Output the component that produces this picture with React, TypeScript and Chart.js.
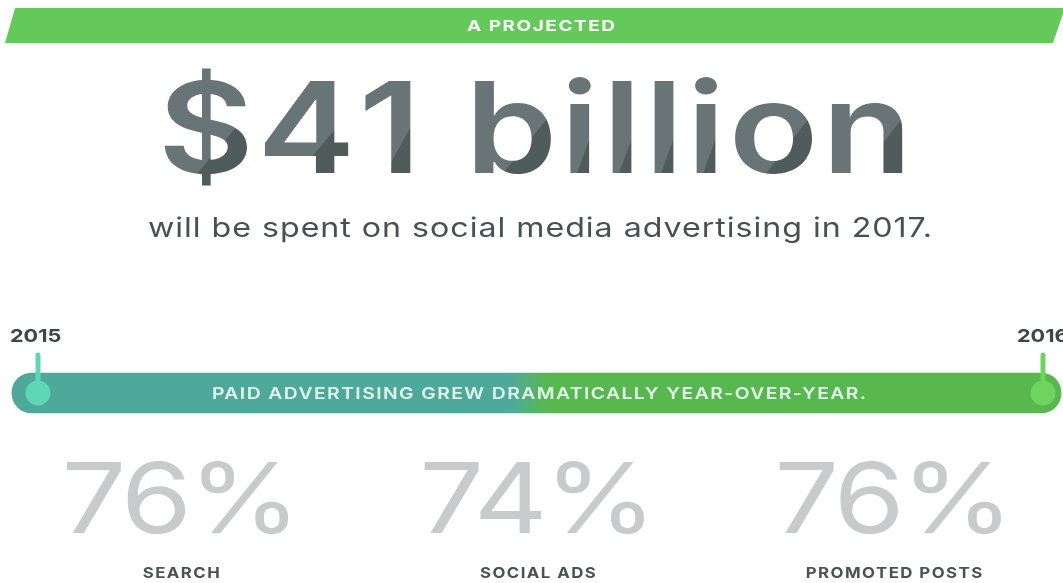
import React, { useEffect, useRef } from "react";
import { Chart, registerables } from "chart.js";

Chart.register(...registerables);

// ---- data ----
const BANNER_TEXT = "A PROJECTED";
const HEADLINE = "$41 billion";
const SUBTITLE = "will be spent on social media advertising in 2017.";
const YEAR_LABELS = ["2015", "2016"];
const YEAR_VALUES = [2015, 2016];
const TIMELINE_SPAN = [2014.974, 2016.018];
const TIMELINE_LABEL = "PAID ADVERTISING GREW DRAMATICALLY YEAR-OVER-YEAR.";
const CATEGORIES = ["SEARCH", "SOCIAL ADS", "PROMOTED POSTS"];
const GROWTH_PCT = [76, 74, 76];

// ---- layout / style ----
const W = 1063;
const H = 583;
const X_MIN = 2014.9622;
const X_MAX = 2016.0199;
const PCT_CENTERS = [0.1705, 0.506, 0.841];
const FONT = "Inter, 'Open Sans', sans-serif";

// draw text centred at cx, stretched horizontally to the given width
function stretchText(
  ctx: CanvasRenderingContext2D,
  text: string,
  cx: number,
  baseline: number,
  width: number,
  font: string,
  color: string,
  spacing = 0
) {
  ctx.save();
  ctx.font = font;
  (ctx as any).letterSpacing = spacing + "px";
  const w = ctx.measureText(text).width - spacing;
  const sx = width / w;
  ctx.translate(cx - width / 2, baseline);
  ctx.scale(sx, 1);
  ctx.textAlign = "left";
  ctx.textBaseline = "alphabetic";
  ctx.fillStyle = color;
  ctx.fillText(text, 0, 0);
  ctx.restore();
}

function scaledText(
  ctx: CanvasRenderingContext2D,
  text: string,
  cx: number,
  baseline: number,
  sx: number,
  font: string,
  color: string,
  spacing = 0
) {
  ctx.save();
  ctx.font = font;
  (ctx as any).letterSpacing = spacing + "px";
  const w = (ctx.measureText(text).width - spacing) * sx;
  ctx.translate(cx - w / 2, baseline);
  ctx.scale(sx, 1);
  ctx.textAlign = "left";
  ctx.fillStyle = color;
  ctx.fillText(text, 0, 0);
  ctx.restore();
}

const infographicPlugin = {
  id: "infographic",
  beforeDraw(chart: any) {
    const ctx: CanvasRenderingContext2D = chart.ctx;
    // Headline with faceted shading
    ctx.save();
    ctx.font = `600 126px ${FONT}`;
    const chars = [...HEADLINE];
    const advances = chars.map((c) => ctx.measureText(c).width);
    const ls = 3;
    const total = advances.reduce((a, b) => a + b, 0) + ls * (chars.length - 1);
    const target = 754;
    const sx = target / total;
    let x = 535 - target / 2;
    const base = 173;
    const top = 62;
    const bot = 192;
    ctx.fillStyle = "#687475";
    const boxes: [number, number][] = [];
    chars.forEach((c, i) => {
      ctx.save();
      ctx.translate(x, base);
      ctx.scale(sx, 1);
      ctx.fillText(c, 0, 0);
      ctx.restore();
      boxes.push([x, x + advances[i] * sx]);
      x += (advances[i] + ls) * sx;
    });
    ctx.globalCompositeOperation = "source-atop";
    ctx.fillStyle = "#505b5c";
    chars.forEach((c, i) => {
      if (c === " ") return;
      const [x0, x1] = boxes[i];
      const w = x1 - x0;
      ctx.beginPath();
      ctx.moveTo(x1 + 4, top + (bot - top) * 0.3);
      ctx.lineTo(x1 + 4, bot);
      ctx.lineTo(x0 + w * 0.25, bot);
      ctx.closePath();
      ctx.fill();
    });
    ctx.restore();

    // Banner
    ctx.save();
    ctx.fillStyle = "#64c95a";
    ctx.beginPath();
    ctx.moveTo(15, 8);
    ctx.lineTo(W + 2, 8);
    ctx.lineTo(W - 10, 43);
    ctx.lineTo(5, 43);
    ctx.closePath();
    ctx.fill();
    ctx.restore();
    stretchText(ctx, BANNER_TEXT, 541, 31, 148, `700 15px ${FONT}`, "#ffffff", 1.2);

    // Subtitle
    stretchText(ctx, SUBTITLE, 540, 237, 784, `400 27px ${FONT}`, "#4a5051", 0.8);
  },
  afterDatasetsDraw(chart: any) {
    const ctx: CanvasRenderingContext2D = chart.ctx;
    const xs = chart.scales.x;
    const ys = chart.scales.y;
    const cy = ys.getPixelForValue(0);
    const markerColors = ["#5fd6b6", "#6fd360"];
    YEAR_VALUES.forEach((v, i) => {
      const px = xs.getPixelForValue(v);
      ctx.save();
      ctx.strokeStyle = markerColors[i];
      ctx.lineWidth = 5;
      ctx.lineCap = "round";
      ctx.beginPath();
      ctx.moveTo(px, 355);
      ctx.lineTo(px, cy);
      ctx.stroke();
      ctx.fillStyle = markerColors[i];
      ctx.beginPath();
      ctx.arc(px, cy, 12.5, 0, Math.PI * 2);
      ctx.fill();
      ctx.restore();
      ctx.save();
      ctx.font = `700 18px ${FONT}`;
      ctx.fillStyle = "#3f4647";
      const lx = i === 0 ? px - 28 : px - 26;
      ctx.translate(lx, 342);
      ctx.scale(1.2, 1);
      ctx.fillText(YEAR_LABELS[i], 0, 0);
      ctx.restore();
    });
    // label on bar
    stretchText(ctx, TIMELINE_LABEL, 539, cy + 6, 654, `600 16px ${FONT}`, "#e2f6ee", 1.2);

    // percentages
    GROWTH_PCT.forEach((v, i) => {
      const cx = chart.width * PCT_CENTERS[i];
      scaledText(ctx, `${v}%`, cx, 533, 1.18, `400 97px ${FONT}`, "#c8cacb", -3);
      scaledText(ctx, CATEGORIES[i], cx, 578, 1.12, `700 15px ${FONT}`, "#4b5253", 1.3);
    });
  },
};

export default function App() {
  const ref = useRef<HTMLCanvasElement>(null);
  useEffect(() => {
    document.body.style.margin = "0";
    const canvas = ref.current!;
    const chart = new Chart(canvas, {
      type: "bar",
      data: {
        labels: ["timeline"],
        datasets: [
          {
            data: [TIMELINE_SPAN as any],
            backgroundColor: (c: any) => {
              const area = c.chart.chartArea;
              if (!area) return "#4fa99b";
              const g = c.chart.ctx.createLinearGradient(area.left, 0, area.right, 0);
              g.addColorStop(0, "#4fa99b");
              g.addColorStop(0.48, "#4fa99b");
              g.addColorStop(0.515, "#58b84f");
              g.addColorStop(1, "#58b84f");
              return g;
            },
            borderRadius: 20,
            borderSkipped: false,
            barThickness: 40,
          },
        ],
      },
      options: {
        indexAxis: "y",
        animation: false,
        responsive: true,
        maintainAspectRatio: false,
        layout: { padding: { top: 353, bottom: 150, left: 0, right: 0 } },
        plugins: { legend: { display: false }, tooltip: { enabled: false }, title: { display: false } },
        scales: {
          x: { type: "linear", min: X_MIN, max: X_MAX, display: false },
          y: { display: false },
        },
      },
      plugins: [infographicPlugin],
    } as any);
    return () => chart.destroy();
  }, []);
  return (
    <div style={{ position: "absolute", left: 0, top: 0, width: W, height: H, background: "#fff" }}>
      <canvas ref={ref} />
    </div>
  );
}
